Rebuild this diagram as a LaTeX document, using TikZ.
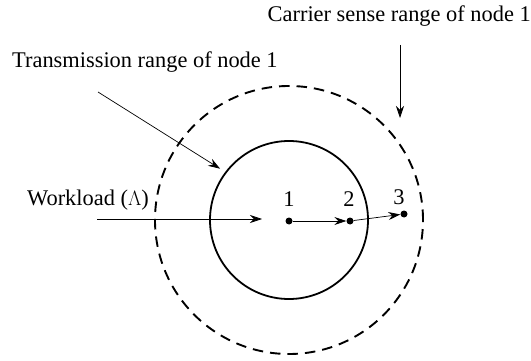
\documentclass[tikz,border=0pt]{standalone}
\usepackage{fontspec}
\setmainfont{Liberation Serif}
\usetikzlibrary{arrows.meta, positioning}

\begin{document}
\begin{tikzpicture}[
  x=1pt, y=-1pt,
  font=\fontsize{22.4}{26}\selectfont,
  dot/.style={circle, fill=black, inner sep=0pt, minimum size=7pt},
  lbl/.style={inner sep=0pt},
  txrange/.style={circle, draw=black, line width=1.8pt, inner sep=0pt, minimum size=158pt},
  csrange/.style={circle, draw=black, line width=1.9pt, inner sep=0pt, minimum size=268pt,
                  dash pattern=on 10.5pt off 7pt},
  arr/.style={-{Stealth[length=12pt, width=8pt, inset=4pt]}, line width=0.7pt},
]
\useasboundingbox (0,0) rectangle (531,361);

% --- Nodos ---
\node[dot] (n1) at (289,221) {};
\node[dot] (n2) at (350,221) {};
\node[dot] (n3) at (404,214) {};
\node[lbl, above=10.5pt of n1] {1};
\node[lbl, above=10.5pt of n2, xshift=-1pt] {2};
\node[lbl, above=5.5pt of n3, xshift=-5pt] {3};

% --- Rangos ---
\node[txrange] (tx) at (289,220) {};
\node[csrange] (cs) at (289,220) {};

% --- Etiquetas ---
\node[lbl, anchor=base east] (cslbl) at (531,22) {Carrier sense range of node 1};
\node[lbl, anchor=base west] (txlbl) at (12,68) {Transmission range of node 1};
\node[lbl, anchor=base west] (wllbl) at (27,205) {Workload ($\Lambda$)};

\coordinate (cstail) at (400,45);
\coordinate (cshead) at (400,118);
\coordinate (txtail) at (98,92);
\coordinate (wltail) at (97,219);
\coordinate (wlhead) at (262,219);

% --- Flechas ---
\draw[arr] (cstail) -- (cshead);
\draw[arr, shorten >=6pt] (txtail) -- (tx.143);
\draw[arr] (wltail) -- (wlhead);
\draw[arr] (n1) -- (n2);
\draw[arr] (n2) -- (n3);

\end{tikzpicture}
\end{document}
